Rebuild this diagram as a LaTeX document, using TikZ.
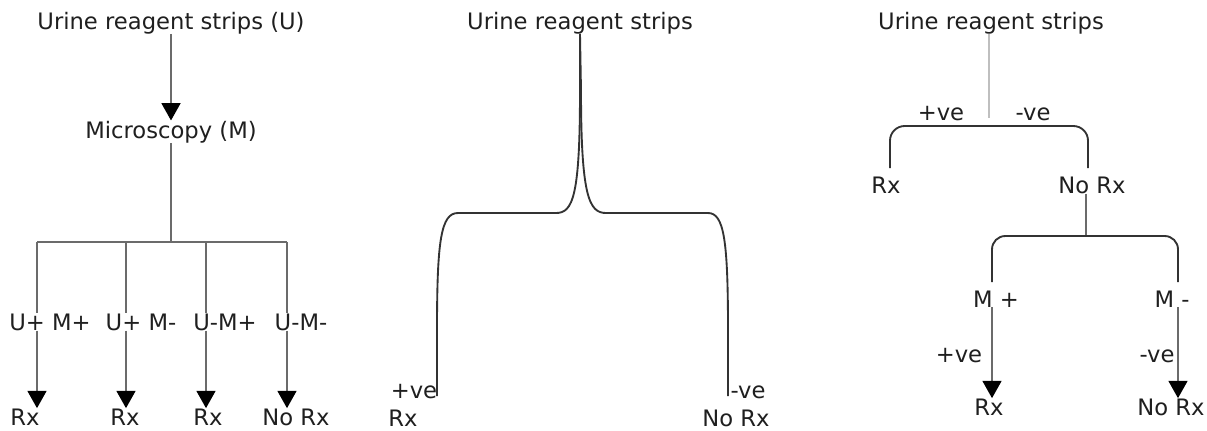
\documentclass[tikz,border=0pt]{standalone}
\usepackage{fontspec}
\setmainfont{DejaVu Sans}
\usetikzlibrary{arrows.meta,positioning}

\begin{document}
\begin{tikzpicture}[
  x=0.75pt,y=-0.75pt,
  lbl/.style={anchor=base,inner sep=0pt,text=black!88,
              font=\fontsize{17}{20}\selectfont},
  ln/.style={draw=black!58,line width=1.9pt},
  crv/.style={draw=black!80,line width=1.4pt},
  stem/.style={draw=black!25,line width=1.6pt},
  arr/.style={ln,-{Triangle[width=14pt,length=13pt,color=black]}},
]
\useasboundingbox (0,0) rectangle (1207,430);

%% --- strips then microscopy ------------------------------------------------
\node[lbl] (u1) at (171,29)  {Urine reagent strips (U)};
\node[lbl] (m1) at (171,138) {Microscopy (M)};
\draw[arr] (u1) -- (m1);

\node[lbl] (c1) at (50,330)  {U+ M+};
\node[lbl] (c2) at (141,330) {U+ M-};
\node[lbl] (c3) at (225,330) {U-M+};
\node[lbl] (c4) at (301,330) {U-M-};

\node[lbl] (r1) at (25,425)  {Rx};
\node[lbl] (r2) at (125,425) {Rx};
\node[lbl] (r3) at (208,425) {Rx};
\node[lbl] (r4) at (296,425) {No Rx};

\coordinate (b1) at (37,242);
\coordinate (b2) at (126,242);
\coordinate (b3) at (206,242);
\coordinate (b4) at (287,242);

\draw[ln] (m1) -- (m1 |- b1);
\draw[ln] (b1) -- (b4);
\foreach \i in {1,...,4} {
  \draw[ln]  (b\i) -- (b\i |- c\i.north);
  \draw[arr] (b\i |- c\i.south) -- (b\i |- r\i.north);
}

%% --- strips alone ----------------------------------------------------------
\node[lbl] (u2) at (580,29)  {Urine reagent strips};
\node[lbl] (p2) at (414,398) {+ve};
\node[lbl] (n2) at (748,398) {-ve};
\node[lbl] (r5) at (403,426) {Rx};
\node[lbl] (r6) at (736,426) {No Rx};

\coordinate (lft) at (437,396);
\coordinate (rgt) at (728,396);

\draw[crv] (u2.south) -- (580,90) .. controls (580,196) and (573,213) .. (556,213)
  -- (458,213) .. controls (441,213) and (437,240) .. (437,330) -- (lft);
\draw[crv] (u2.south) -- (581,90) .. controls (581,196) and (589,213) .. (606,213)
  -- (708,213) .. controls (724,213) and (728,240) .. (728,330) -- (rgt);

%% --- strips, then microscopy on negatives ----------------------------------
\node[lbl] (u3) at (991,29)   {Urine reagent strips};
\node[lbl] (p3) at (941,120)  {+ve};
\node[lbl] (n3) at (1033,120) {-ve};
\node[lbl] (r7) at (886,193)  {Rx};
\node[lbl] (r8) at (1092,193) {No Rx};

\coordinate (top3) at (989,118);
\coordinate (bar1) at (989,126);
\coordinate (lg1)  at (890,168);
\coordinate (lg2)  at (1088,168);

\draw[stem] (bar1 |- u3.south) -- (top3);
\draw[crv,rounded corners=11pt] (lg1) -- (lg1 |- bar1) -- (lg2 |- bar1) -- (lg2);

\node[lbl] (mp) at (996,307)  {M +};
\node[lbl] (mn) at (1172,307) {M -};
\node[lbl] (p4) at (959,362)  {+ve};
\node[lbl] (n4) at (1157,362) {-ve};
\node[lbl] (r9) at (989,415)  {Rx};
\node[lbl] (r10) at (1171,415) {No Rx};

\coordinate (bar2) at (1086,236);
\coordinate (lg3)  at (992,282);
\coordinate (lg4)  at (1178,282);

\draw[ln] (bar2 |- r8.south) -- (bar2);
\draw[crv,rounded corners=10pt] (lg3) -- (lg3 |- bar2) -- (lg4 |- bar2) -- (lg4);
\draw[arr] (lg3 |- mp.south) -- (lg3 |- r9.north);
\draw[arr] (lg4 |- mn.south) -- (lg4 |- r10.north);

\end{tikzpicture}
\end{document}
